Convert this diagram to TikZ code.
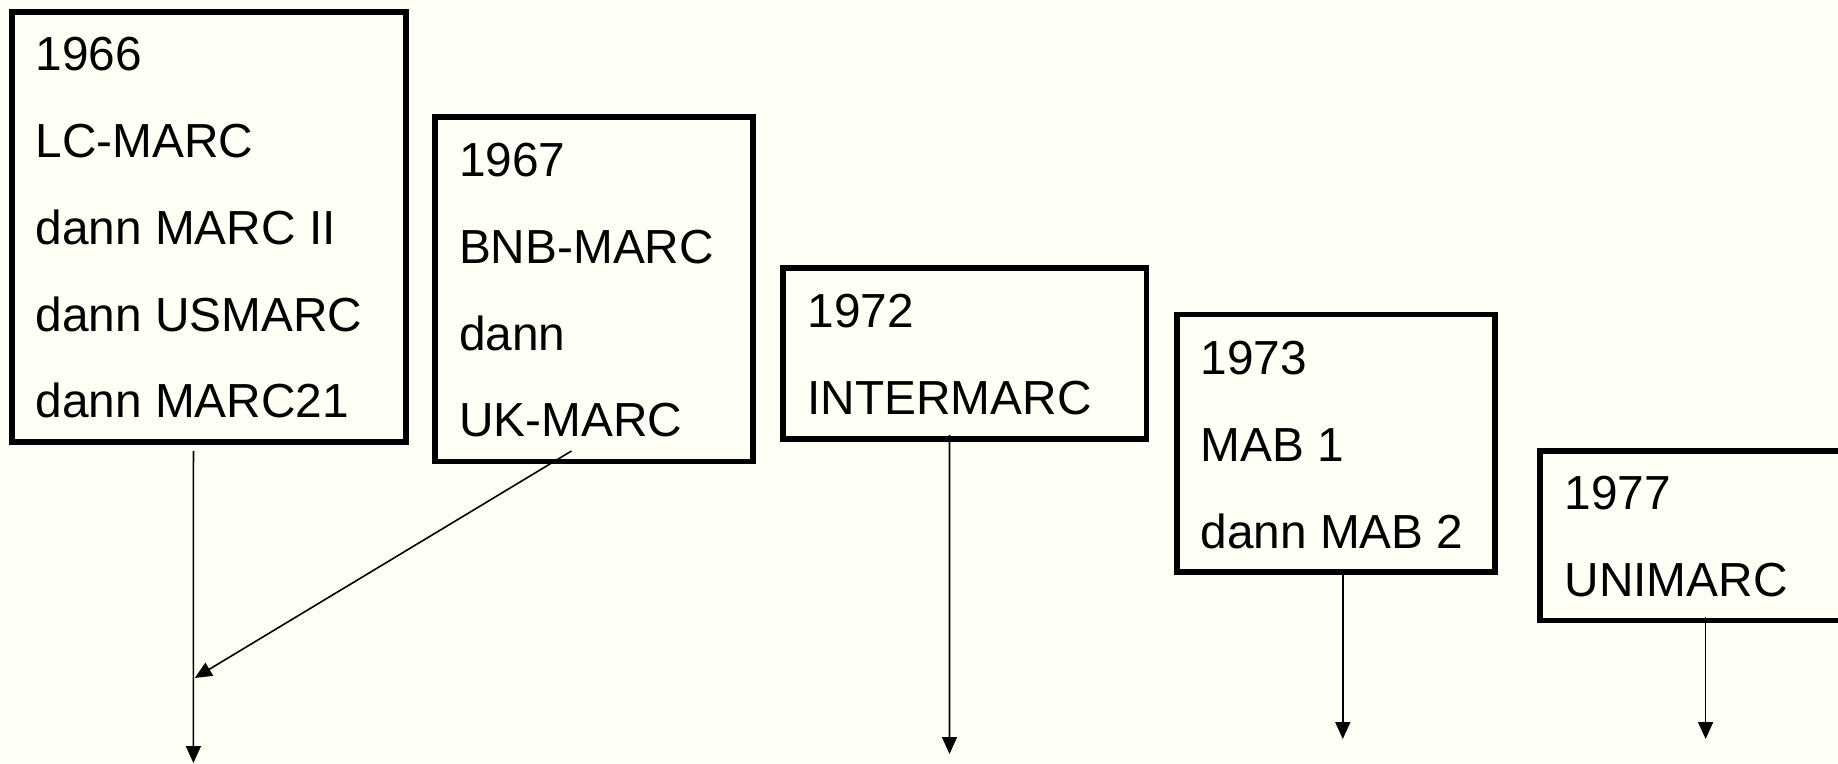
\documentclass[tikz,border=0pt]{standalone}
\usepackage{fontspec}
\setmainfont{Liberation Sans}
\usetikzlibrary{arrows.meta}
\definecolor{bgcream}{RGB}{255,255,245}
\tikzset{
  yearbox/.style={draw=black, line width=2.9pt, rectangle, inner sep=0pt, outer sep=0pt},
  boxtext/.style={anchor=north west, align=left, inner sep=0pt, outer sep=0pt,
    font=\fontsize{23.9pt}{43.4pt}\selectfont},
  flow/.style={draw=black, line width=0.8pt, -{Triangle[length=8.5pt,width=7.5pt]}}
}
\newcommand{\firststrut}{\rule{0pt}{20pt}}
\begin{document}
\begin{tikzpicture}[x=0.5pt,y=-0.5pt]
\fill[bgcream] (0,0) rectangle (1838,764);
\useasboundingbox (0,0) rectangle (1838,764);
% boxes
\node[yearbox, minimum width=196.95pt, minimum height=215pt] (b1) at (208.65,227) {};
\node[yearbox, minimum width=159pt, minimum height=172.25pt] (b2) at (594,289.25) {};
\node[yearbox, minimum width=181.7pt, minimum height=85.5pt] (b3) at (964.7,353.5) {};
\node[yearbox, minimum width=159pt, minimum height=128.7pt] (b4) at (1336,443.3) {};
\node[yearbox, minimum width=165pt, minimum height=84.75pt] (b5) at (1705,535.75) {};
% texts
\node[boxtext] (t1) at (35.5,30.7) {\firststrut 1966\\LC-MARC\\dann MARC II\\dann USMARC\\dann MARC21};
\node[boxtext] (t2) at (459,136.6) {\firststrut 1967\\BNB-MARC\\dann\\UK-MARC};
\node[boxtext] (t3) at (807.5,287.8) {\firststrut 1972\\INTERMARC};
\node[boxtext] (t4) at (1200.5,334.6) {\firststrut 1973\\MAB 1\\dann MAB 2};
\node[boxtext] (t5) at (1564.5,469.8) {\firststrut 1977\\UNIMARC};
% free ends
\coordinate (e1) at (193.4,763);
\coordinate (m1) at (194.8,678);
\coordinate (e3) at (949.5,754);
\coordinate (e4) at (1342.8,739);
\coordinate (e5) at (1705.6,739);
% connectors
\draw[flow] ([xshift=-7.6pt,yshift=-4.5pt]b1.south) -- (e1);
\draw[flow] ([xshift=-11.25pt,yshift=5.25pt]b2.south) -- (m1);
\draw[flow] ([xshift=-7.6pt,yshift=2pt]b3.south) -- (e3);
\draw[flow] ([xshift=3.4pt,yshift=-0.5pt]b4.south) -- (e4);
\draw[flow] ([xshift=0.3pt,yshift=1.75pt]b5.south) -- (e5);
\end{tikzpicture}
\end{document}
